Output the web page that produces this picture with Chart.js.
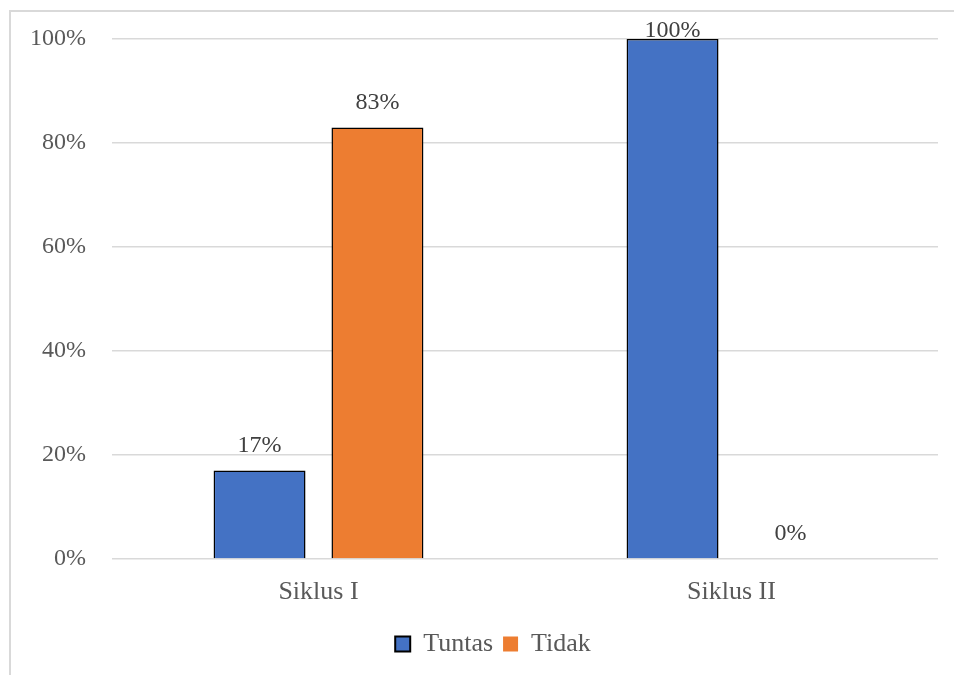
<!DOCTYPE html>
<html>
<head>
<meta charset="utf-8">
<script src="https://cdn.jsdelivr.net/npm/chart.js@4/dist/chart.umd.min.js"></script>
<style>
  html, body { margin: 0; padding: 0; background: #fff; overflow: hidden; }
  #wrap { position: relative; width: 954px; height: 675px; overflow: hidden; }
  #frame {
    position: absolute; left: 9px; top: 10px;
    width: 945px; height: 665px;
    border-left: 2px solid #d9d9d9; border-top: 2px solid #d9d9d9;
    box-sizing: border-box;
  }
  #chart { position: absolute; left: 0; top: 0; }
</style>
</head>
<body>
<div id="wrap">
  <div id="frame"></div>
  <canvas id="chart" width="954" height="675"></canvas>
</div>
<script>
const categories = ["Siklus I", "Siklus II"];
const tuntas = [17, 100];
const tidak = [83, 0];
const yTicks = [0, 20, 40, 60, 80, 100];

const FONT = '"Liberation Serif", "Times New Roman", serif';
const TEXT = "#595959";

/* ---------- VALUE LABELS ABOVE BARS ---------- */
const valueLabels = {
  id: "valueLabels",
  afterDatasetsDraw(chart) {
    const ctx = chart.ctx;
    ctx.save();
    ctx.font = "24px " + FONT;
    ctx.fillStyle = "#404040";
    ctx.textAlign = "center";
    ctx.textBaseline = "middle";
    chart.data.datasets.forEach((ds, i) => {
      chart.getDatasetMeta(i).data.forEach((bar, j) => {
        const y = Math.max(bar.y - 25, chart.chartArea.top - 8);
        ctx.fillText(ds.data[j] + "%", bar.x, y);
      });
    });
    ctx.restore();
  }
};

/* legend sits a bit right of the canvas centre */
const legendShift = {
  id: "legendShift",
  afterLayout(chart) {
    chart.legend.left += 24;
    chart.legend.right += 24;
  }
};

new Chart(document.getElementById("chart"), {
  type: "bar",
  data: {
    labels: categories,
    datasets: [
      {
        label: "Tuntas",
        data: tuntas,
        backgroundColor: "#4472C4",
        borderColor: "#000",
        borderWidth: 1.5,
        categoryPercentage: 0.571,
        barPercentage: 0.78
      },
      {
        label: "Tidak",
        data: tidak,
        backgroundColor: "#ED7D31",
        borderColor: "#000",
        borderWidth: 1.5,
        categoryPercentage: 0.571,
        barPercentage: 0.78
      }
    ]
  },
  options: {
    responsive: false,
    animation: false,
    layout: { padding: { left: 0, right: 16, top: 39, bottom: 8 } },
    plugins: {
      tooltip: { enabled: false },
      legend: {
        position: "bottom",
        labels: {
          font: { family: FONT, size: 26 },
          color: TEXT,
          boxWidth: 15,
          boxHeight: 15,
          padding: 10,
          generateLabels(chart) {
            const items = Chart.defaults.plugins.legend.labels.generateLabels(chart);
            items.forEach((it, i) => {
              it.lineWidth = i === 1 ? 0 : 2;
            });
            return items;
          }
        }
      }
    },
    scales: {
      x: {
        grid: { display: false, drawTicks: false },
        border: { display: false },
        ticks: {
          font: { family: FONT, size: 26 },
          color: TEXT,
          padding: 18
        },
        afterFit(s) { s.height = 62; }
      },
      y: {
        min: 0,
        max: 100,
        afterBuildTicks(s) { s.ticks = yTicks.map(v => ({ value: v })); },
        grid: { color: "#d9d9d9", lineWidth: 1.5, drawTicks: false },
        border: { display: false },
        ticks: {
          font: { family: FONT, size: 24 },
          color: TEXT,
          padding: 26,
          callback: v => v + "%"
        },
        afterFit(s) {
          s.width = 112;
          s.paddingTop = 0;
          s.paddingBottom = 0;
        }
      }
    }
  },
  plugins: [valueLabels, legendShift]
});
</script>
</body>
</html>
